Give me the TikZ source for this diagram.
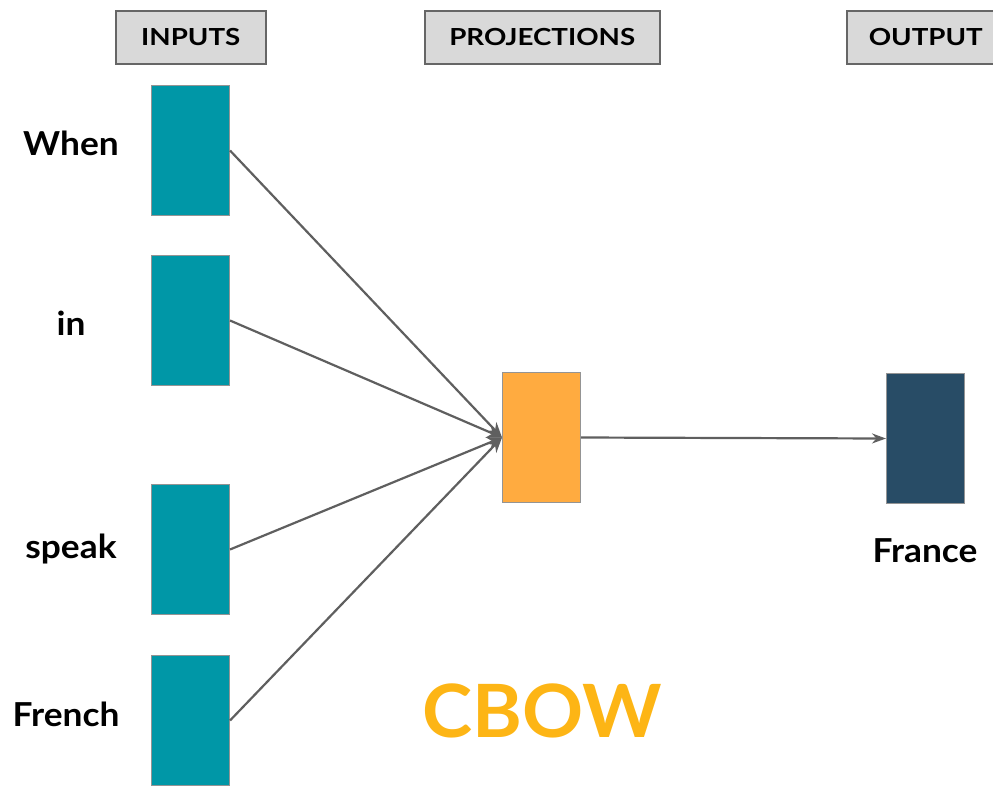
\documentclass[tikz,border=0pt]{standalone}
\usepackage{fontspec}
\setmainfont{Lato}
\newfontfamily\wordfont[FakeStretch=1.07]{Lato}
\newfontfamily\headfont[FakeStretch=1.18]{Lato}
\newfontfamily\titlefont[FakeStretch=1.03]{Lato}
\usetikzlibrary{arrows.meta}
\definecolor{inputteal}{HTML}{0097A7}
\definecolor{projorange}{HTML}{FFAB40}
\definecolor{outnavy}{HTML}{284C66}
\definecolor{cbowgold}{HTML}{FDB515}
\definecolor{headgray}{HTML}{D9D9D9}
\definecolor{edgegray}{HTML}{666666}
\definecolor{arrowgray}{HTML}{5F5F5F}
\tikzset{
  header/.style={draw=edgegray, line width=1.5pt, fill=headgray, anchor=north west,
    inner sep=0pt, font=\headfont\fontsize{23.5}{26}\selectfont\bfseries},
  vecbox/.style={draw=edgegray!70, line width=1pt, minimum width=78pt, minimum height=130pt,
    inner sep=0pt, anchor=north west},
  word/.style={font=\wordfont\fontsize{33}{36}\selectfont\bfseries, text=black},
  link/.style={draw=arrowgray, line width=2.2pt, -{Stealth[length=15pt,width=13pt]}},
}
\begin{document}
\begin{tikzpicture}[x=1pt,y=-1pt]
\useasboundingbox (0,0) rectangle (993,785);
\begin{scope}
\clip (0,0) rectangle (993,785);
% column headers
\node[header, minimum width=150pt, minimum height=53pt] (hin) at (115,10) {INPUTS};
\node[header, minimum width=235pt, minimum height=53pt] (hproj) at (424,10) {PROJECTIONS};
\node[header, minimum width=160pt, minimum height=53pt, text width=140pt, align=left] (hout) at (846,10) {\hspace*{12pt}OUTPUT};
% input word vectors
\node[vecbox, fill=inputteal] (w1) at (151,85) {};
\node[vecbox, fill=inputteal] (w2) at (151,255) {};
\node[vecbox, fill=inputteal] (w3) at (151,484) {};
\node[vecbox, fill=inputteal] (w4) at (151,655) {};
% projection and output
\node[vecbox, fill=projorange] (proj) at (502,372) {};
\node[vecbox, fill=outnavy] (out) at (886,373) {};
% words
\node[word] (t1) at (71,143) {When};
\node[word] (t2) at (71,323) {in};
\node[word] (t3) at (71,549) {speak};
\node[word] (t4) at (66,714) {French};
\node[word] (t5) at (925,551) {France};
\node[font=\titlefont\fontsize{73.5}{80}\selectfont\bfseries, text=cbowgold] (cbow) at (542,711) {CBOW};
% connections
\draw[link] (w1.east) -- (proj.west);
\draw[link] (w2.east) -- (proj.west);
\draw[link] (w3.east) -- (proj.west);
\draw[link] (w4.east) -- (proj.west);
\draw[link, -{Stealth[length=14pt,width=10pt]}] (proj.east) -- (out.west);
\end{scope}
\end{tikzpicture}
\end{document}
